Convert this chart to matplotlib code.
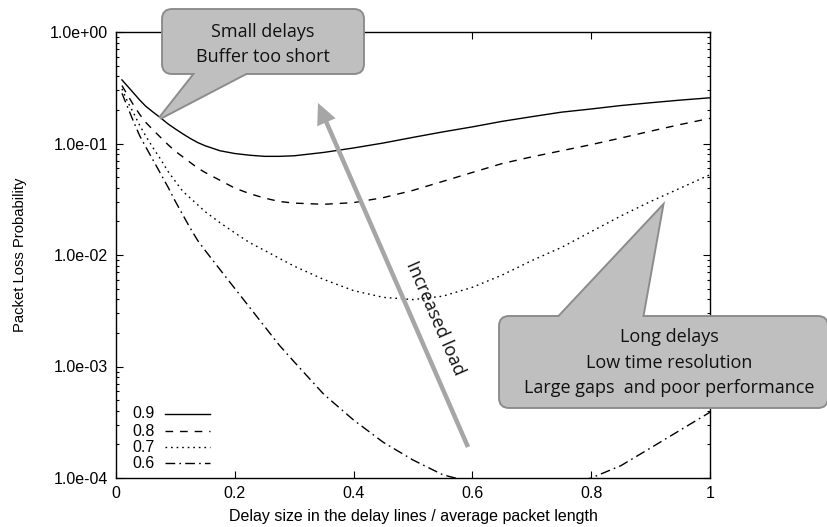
import numpy as np
import matplotlib
matplotlib.use("Agg")
import matplotlib.pyplot as plt
from matplotlib.patches import FancyBboxPatch, Polygon, FancyArrow
from matplotlib.ticker import FuncFormatter, LogLocator, NullFormatter, FixedLocator

# Delay size / average packet length
delay = [0.01, 0.02, 0.03, 0.04, 0.05, 0.0625, 0.075, 0.0875, 0.1, 0.1125, 0.125, 0.1375,
         0.15, 0.175, 0.2, 0.225, 0.25, 0.275, 0.3, 0.35, 0.4, 0.45, 0.5, 0.55, 0.6, 0.65,
         0.7, 0.75, 0.8, 0.85, 0.9, 0.95, 1.0]

# Packet loss probability per load
loss_09 = [0.372, 0.324, 0.282, 0.245, 0.216, 0.191, 0.170, 0.150, 0.135, 0.122, 0.111, 0.102,
           0.0955, 0.0861, 0.0813, 0.0785, 0.0767, 0.0767, 0.0776, 0.0832, 0.0912, 0.101, 0.1135,
           0.127, 0.141, 0.158, 0.174, 0.191, 0.204, 0.219, 0.232, 0.245, 0.257]
loss_08 = [0.331, 0.269, 0.219, 0.182, 0.155, 0.132, 0.1135, 0.0977, 0.0851, 0.0759, 0.0676, 0.0603,
           0.0550, 0.0468, 0.0398, 0.0355, 0.0324, 0.0302, 0.0292, 0.0285, 0.0295, 0.0327, 0.0380,
           0.0457, 0.0550, 0.0661, 0.0759, 0.0861, 0.0977, 0.112, 0.129, 0.148, 0.168]
loss_07 = [0.309, 0.234, 0.186, 0.145, 0.117, 0.0912, 0.0724, 0.0562, 0.0457, 0.0372, 0.0324, 0.0282,
           0.0245, 0.0195, 0.0158, 0.0129, 0.0110, 0.00933, 0.00794, 0.00603, 0.00479, 0.00417,
           0.00398, 0.00427, 0.00513, 0.00661, 0.00891, 0.0117, 0.0162, 0.0224, 0.0302, 0.0398, 0.0525]
loss_06 = [0.282, 0.209, 0.155, 0.117, 0.0933, 0.0708, 0.0537, 0.0407, 0.0302, 0.0229, 0.0174, 0.0135,
           0.0110, 0.00741, 0.00501, 0.00339, 0.00229, 0.00155, 0.00110, 5.62e-4, 3.31e-4, 2.09e-4,
           1.45e-4, 1.07e-4, 9.1e-5, 8.3e-5, 8.1e-5, 8.5e-5, 1.0e-4, 1.29e-4, 1.86e-4, 2.69e-4, 3.89e-4]

loads = ["0.9", "0.8", "0.7", "0.6"]
series = [loss_09, loss_08, loss_07, loss_06]
dash_styles = [None, (0, (5.5, 5.0)), (0, (1.2, 2.8)), (0, (7.0, 3.0, 1.2, 3.0))]

yticks = [1e-4, 1e-3, 1e-2, 1e-1, 1e0]
xticks = [0, 0.2, 0.4, 0.6, 0.8, 1.0]

W, H = 828, 527
fig = plt.figure(figsize=(W / 100, H / 100), dpi=100)
ax = fig.add_axes([116 / W, 1 - 478 / H, 594 / W, 446 / H])

for vals, ds in zip(series, dash_styles):
    if ds is None:
        ax.plot(delay, vals, color="black", lw=1.0, solid_joinstyle="round")
    else:
        ax.plot(delay, vals, color="black", lw=1.0, linestyle=ds)

ax.set_yscale("log")
ax.set_xlim(0, 1)
ax.set_ylim(1e-4, 1)
ax.yaxis.set_major_locator(FixedLocator(yticks))
ax.yaxis.set_minor_locator(LogLocator(base=10, subs=np.arange(2, 10)))
ax.yaxis.set_minor_formatter(NullFormatter())
ax.yaxis.set_major_formatter(FuncFormatter(lambda v, _: f"{v:.1e}"))
ax.xaxis.set_major_locator(FixedLocator(xticks))
ax.xaxis.set_major_formatter(FuncFormatter(lambda v, _: f"{v:g}"))

ax.tick_params(which="both", direction="in", top=True, right=True, width=0.8)
ax.tick_params(which="major", length=5, pad=6)
ax.tick_params(which="minor", length=2.5)
for lab in ax.get_xticklabels() + ax.get_yticklabels():
    lab.set_fontfamily("Liberation Sans")
    lab.set_fontsize(11.5)
for sp in ax.spines.values():
    sp.set_linewidth(1.0)

ax.set_xlabel("Delay size in the delay lines / average packet length",
              family="Liberation Sans", size=11.5)
ax.set_ylabel("Packet Loss Probability", family="Liberation Sans", size=10.6)
ax.xaxis.set_label_coords(0.5, -0.07)
ax.yaxis.set_label_coords(-0.149, 0.5)

# Legend (gnuplot style: label then sample)
leg_rows = [414, 431, 447, 463]
for lab, ds, py in zip(loads, dash_styles, leg_rows):
    yf = (478 - py) / 446
    ax.text((132 - 116) / 594, yf, lab, transform=ax.transAxes, ha="left", va="center",
            family="Liberation Sans", fontsize=11.5)
    ax.plot([(165 - 116) / 594, (210 - 116) / 594], [yf, yf], transform=ax.transAxes,
            color="black", lw=1.0, linestyle="-" if ds is None else ds, clip_on=False)

# Callouts, figure pixel coordinates
def px(x, y):
    return x / 100, (H - y) / 100

tr = fig.dpi_scale_trans
box_fill = "#bfbfbf"
box_edge = "#8c8c8c"
callout_font = dict(family="Open Sans", size=13, color="#111111")

def callout(x0, y0, x1, y1, tri):
    (bx0, by1) = px(x0, y0)
    (bx1, by0) = px(x1, y1)
    tri_pts = [px(*p) for p in tri]
    for edge, z in ((True, 5), (False, 6)):
        kw = dict(facecolor=box_fill, edgecolor=box_edge if edge else "none",
                  linewidth=2.8 if edge else 0, transform=tr, zorder=z)
        fig.patches.append(FancyBboxPatch((bx0, by0), bx1 - bx0, by1 - by0,
                                          boxstyle="round,pad=0,rounding_size=0.09", **kw))
        fig.patches.append(Polygon(tri_pts, closed=True, joinstyle="miter", **kw))

callout(163, 10, 363, 73, [(197, 71), (250, 71), (160, 118)])
fig.text(263 / W, 1 - 32 / H, "Small delays", ha="center", va="center", zorder=7, **callout_font)
fig.text(263 / W, 1 - 57 / H, "Buffer too short", ha="center", va="center", zorder=7, **callout_font)

callout(500, 317, 827, 407, [(557, 319), (642, 319), (662, 207)])
for txt, py in zip(["Long delays", "Low time resolution", "Large gaps  and poor performance"],
                   [337, 363, 388]):
    fig.text(669 / W, 1 - py / H, txt, ha="center", va="center", zorder=7, **callout_font)

# Increased load arrow
tx, ty = px(468, 447)
hx, hy = px(318, 103)
fig.patches.append(FancyArrow(tx, ty, hx - tx, hy - ty, width=0.045, head_width=0.2,
                              head_length=0.21, length_includes_head=True,
                              facecolor="#a6a6a6", edgecolor="none", transform=tr, zorder=4))
fig.text(435 / W, 1 - 318 / H, "Increased load", rotation=-66.4, rotation_mode="anchor",
         ha="center", va="center", zorder=7, **callout_font)

fig.savefig("out.png", dpi=100)
